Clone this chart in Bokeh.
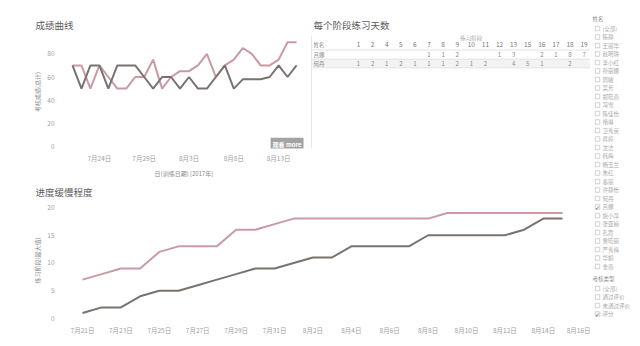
from bokeh.plotting import figure
from bokeh.layouts import row, column
from bokeh.models import FixedTicker, Range1d, Label
from bokeh.embed import file_html
from bokeh.resources import INLINE
from bokeh.core.properties import value

FONT = "Noto Sans CJK SC"
PINK = "#c99aa4"
GRAY = "#797370"
TXT = "#a0a0a0"

# ---------------- data ----------------
dates = ["7月21日", "7月22日", "7月23日", "7月24日", "7月25日", "7月26日", "7月27日",
         "7月28日", "7月29日", "7月30日", "7月31日", "8月1日", "8月2日", "8月3日",
         "8月4日", "8月5日", "8月6日", "8月7日", "8月8日", "8月9日", "8月10日",
         "8月11日", "8月12日", "8月13日", "8月14日", "8月15日"]

score_a = [70, 70, 50, 70, 60, 50, 50, 60, 60, 75, 50, 60, 65, 65, 70, 80, 60, 70,
           75, 85, 80, 70, 70, 75, 90, 90]
score_b = [70, 50, 70, 70, 50, 70, 70, 70, 60, 50, 60, 60, 50, 60, 50, 50, 60, 70,
           50, 58, 58, 58, 60, 70, 60, 70]

stage_a = [7, 8, 9, 9, 12, 13, 13, 13, 16, 16, 17, 18, 18, 18, 18, 18, 18, 18, 18,
           19, 19, 19, 19, 19, 19, 19]
stage_b = [1, 2, 2, 4, 5, 5, 6, 7, 8, 9, 9, 10, 11, 11, 13, 13, 13, 13, 15, 15, 15,
           15, 15, 16, 18, 18]

top_tick_labels = ["7月24日", "7月29日", "8月3日", "8月8日", "8月13日"]
bottom_tick_labels = ["7月21日", "7月23日", "7月25日", "7月27日", "7月29日", "7月31日",
                      "8月2日", "8月4日", "8月6日", "8月8日", "8月10日", "8月12日",
                      "8月14日", "8月16日"]
top_y_ticks = [0, 20, 40, 60, 80]
bottom_y_ticks = [0, 5, 10, 15, 20]

table_names = ["吕娜", "何丹"]
stage_cols = ["1", "2", "4", "5", "6", "7", "8", "9", "10", "11", "12", "13", "15",
              "16", "17", "18", "19"]
days_a = ["", "", "", "", "", "1", "1", "2", "", "", "1", "3", "", "2", "1", "8", "7"]
days_b = ["1", "2", "1", "2", "1", "1", "1", "2", "1", "2", "", "4", "5", "1", "", "2", ""]

filter_names = ["(全部)", "陈静", "王丽华", "赵明珠", "李小红", "孙丽娜", "周敏", "吴芳",
                "郑晓燕", "冯雪", "陈佳怡", "褚琳", "卫秀英", "蒋婷", "沈洁", "韩梅",
                "杨玉兰", "朱红", "秦丽", "许静怡", "何丹", "吕娜", "施小萍", "张亚楠",
                "孔霞", "曹晓丽", "严秀梅", "华娟", "金燕"]
checked_name = "吕娜"
filter_types = ["(全部)", "通过评价", "未通过评价", "评分"]
checked_type = "评分"

x = list(range(len(dates)))


def style_axes(p, xlabel, ylabel):
    for ax in (p.xaxis, p.yaxis):
        ax.axis_line_color = None
        ax.major_tick_line_color = None
        ax.minor_tick_line_color = None
        ax.major_tick_out = 0
        ax.major_tick_in = 0
        ax.minor_tick_out = 0
        ax.minor_tick_in = 0
        ax.major_label_text_font = FONT
        ax.major_label_text_font_size = "6.5px"
        ax.major_label_text_color = TXT
        ax.axis_label_text_font = FONT
        ax.axis_label_text_font_size = "6px"
        ax.axis_label_text_font_style = "normal"
        ax.axis_label_text_color = "#8a8a8a"
    p.xaxis.axis_label = xlabel
    p.yaxis.axis_label = ylabel
    p.xaxis.major_label_standoff = 4
    p.xaxis.axis_label_standoff = 3
    p.yaxis.major_label_standoff = 8
    p.yaxis.axis_label_standoff = 2
    p.grid.visible = False
    p.outline_line_color = None


def style_title(p, text, offset, standoff):
    p.title.text = text
    p.title.text_font = FONT
    p.title.text_font_size = "9.5px"
    p.title.text_font_style = "normal"
    p.title.text_color = "#5c5c5c"
    p.title.align = "left"
    p.title.offset = offset
    p.title.standoff = standoff


# ---------------- top-left: score curves ----------------
p1 = figure(width=310, height=180, output_backend="svg", toolbar_location=None,
            x_range=Range1d(-1.116, 26.0), y_range=Range1d(-1.67, 95.8),
            min_border_left=62, min_border_right=5, min_border_top=35, min_border_bottom=28)
style_title(p1, "成绩曲线", -27, 7)
p1.line(x, score_a, line_color=PINK, line_width=2)
p1.line(x, score_b, line_color=GRAY, line_width=2)
top_pos = [dates.index(t) for t in top_tick_labels]
p1.xaxis.ticker = FixedTicker(ticks=top_pos)
p1.xaxis.major_label_overrides = {pos: lbl for pos, lbl in zip(top_pos, top_tick_labels)}
p1.yaxis.ticker = FixedTicker(ticks=top_y_ticks)
style_axes(p1, "日(训练日期) [2017年]", "考核成绩(总计)")
p1.add_layout(Label(x=25.78, y=2.1, text="观看 more", text_align="right",
                    text_baseline="middle", text_font=FONT, text_font_size="6px",
                    text_color="white", text_font_style="bold",
                    background_fill_color="#a3a3a3", padding=2))

# ---------------- top-right: table (frame aligned with the chart beside it) ----------------
pt = figure(width=280, height=180, output_backend="svg", toolbar_location=None,
            x_range=Range1d(310, 590), y_range=Range1d(152, 35),
            x_axis_location=None, y_axis_location=None,
            min_border_left=0, min_border_right=0, min_border_top=35, min_border_bottom=28)
pt.grid.visible = False
pt.outline_line_color = None
style_title(pt, "每个阶段练习天数", 3, 7)
pt.segment(x0=[311], y0=[35], x1=[311], y1=[152], line_color="#e8e8e8", line_width=1)
col_x = [358 + 14.1 * j for j in range(len(stage_cols))]
pt.text(x=[(col_x[0] + col_x[-1]) / 2], y=[38], text=["练习阶段"], text_font=value(FONT),
        text_font_size="5.5px", text_color=TXT, text_align="center", text_baseline="middle")
pt.quad(left=[312], right=[590], bottom=[68.5], top=[59.5], fill_color="#f3f3f3",
        line_color=None)
pt.segment(x0=[312, 312, 312], y0=[50, 59.5, 68.5], x1=[590, 590, 590],
           y1=[50, 59.5, 68.5], line_color="#dddddd", line_width=0.8)
pt.text(x=[313, 313, 313], y=[44.5, 55, 64], text=["姓名"] + table_names,
        text_font=value(FONT), text_font_size="5.5px", text_color="#8a8a8a",
        text_baseline="middle")
pt.text(x=col_x, y=[44.5] * len(col_x), text=stage_cols, text_font=value(FONT),
        text_font_size="6.5px", text_color="#777777", text_align="center",
        text_baseline="middle")
pt.text(x=col_x, y=[55] * len(col_x), text=days_a, text_font=value(FONT),
        text_font_size="6px", text_color="#8a8a8a", text_align="center",
        text_baseline="middle")
pt.text(x=col_x, y=[64] * len(col_x), text=days_b, text_font=value(FONT),
        text_font_size="6px", text_color="#8a8a8a", text_align="center",
        text_baseline="middle")

# ---------------- bottom: progress ----------------
p2 = figure(width=590, height=166, output_backend="svg", toolbar_location=None,
            x_range=Range1d(-1.042, 26.458), y_range=Range1d(-0.36, 21.26),
            min_border_left=62, min_border_right=0, min_border_top=20, min_border_bottom=26)
style_title(p2, "进度缓慢程度", -27, 3)
p2.line(x, stage_a, line_color=PINK, line_width=2)
p2.line(x, stage_b, line_color=GRAY, line_width=2)
bot_pos = [2 * i for i in range(len(bottom_tick_labels))]
p2.xaxis.ticker = FixedTicker(ticks=bot_pos)
p2.xaxis.major_label_overrides = {pos: lbl for pos, lbl in zip(bot_pos, bottom_tick_labels)}
p2.yaxis.ticker = FixedTicker(ticks=bottom_y_ticks)
style_axes(p2, "", "练习阶段(最大值)")
p2.xaxis.axis_label = None

# ---------------- right: filters ----------------
ps = figure(width=50, height=346, output_backend="svg", toolbar_location=None,
            x_range=Range1d(590, 640), y_range=Range1d(346, 0),
            x_axis_location=None, y_axis_location=None, min_border=0)
ps.grid.visible = False
ps.outline_line_color = None
name_y = [28 + 8.5 * k for k in range(len(filter_names))]
type_y = [288 + 8.5 * k for k in range(len(filter_types))]
ps.text(x=[592, 592], y=[18, 278], text=["姓名", "考核类型"], text_font=value(FONT),
        text_font_size="5.5px", text_color="#8a8a8a", text_baseline="middle")
all_y = name_y + type_y
all_t = filter_names + filter_types
ps.rect(x=[597] * len(all_y), y=all_y, width=4.5, height=4.5, fill_color="white",
        line_color="#c8c8c8", line_width=0.8)
ps.text(x=[602] * len(all_y), y=all_y, text=all_t, text_font=value(FONT),
        text_font_size="5.5px", text_color="#a8a8a8", text_baseline="middle")
chk_y = [name_y[filter_names.index(checked_name)], type_y[filter_types.index(checked_type)]]
ps.text(x=[597, 597], y=chk_y, text=["✓", "✓"], text_font=value("DejaVu Sans"),
        text_font_size="6px", text_color="#555555", text_align="center",
        text_baseline="middle")

layout = row(column(row(p1, pt), p2), ps)
open("out.html", "w").write(file_html(layout, INLINE))
